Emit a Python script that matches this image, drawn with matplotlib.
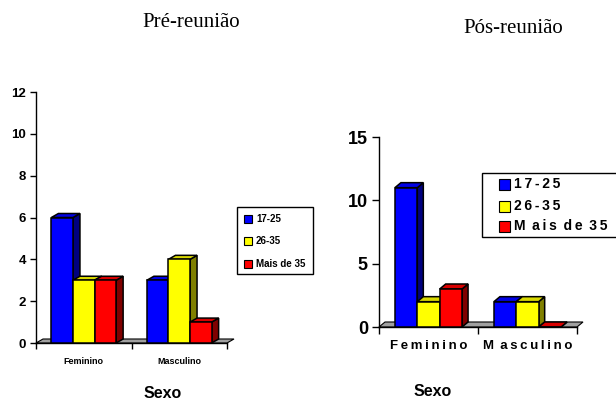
import matplotlib
matplotlib.use("Agg")
import matplotlib.pyplot as plt
from matplotlib.patches import Polygon, Rectangle

# Sample counts by sex and age group, before and after the meeting
categories = ["Feminino", "Masculino"]
age_groups = ["17-25", "26-35", "Mais de 35"]
pre_17_25 = [6, 3]
pre_26_35 = [3, 4]
pre_mais_35 = [3, 1]
pos_17_25 = [11, 2]
pos_26_35 = [2, 2]
pos_mais_35 = [3, 0]

# labels on the second chart are drawn letter-spaced
pos_categories = ["Feminino", "M asculino"]
pos_age_groups = ["17-25", "26-35", "M ais de 35"]

faces = ["#0000ff", "#ffff00", "#ff0000"]
tops = ["#0000e6", "#d8d800", "#d80000"]
sides = ["#000080", "#808000", "#800000"]

W, H = 616, 400
SANS = ["Liberation Sans", "DejaVu Sans"]
SERIF = ["Liberation Serif", "DejaVu Serif"]
EDGE = 1.1


def spaced(s):
    # thin space between letters, word spaces widened by one thin space
    out = s[0]
    for a, b in zip(s, s[1:]):
        out += b if a == " " else "\u2009" + b
    return out


def fx(px):
    return px / W


def fy(py):
    return 1 - py / H


def depth(ax, dxp, dyp):
    # convert a pixel offset into data units
    inv = ax.transData.inverted()
    x0, y0 = ax.transData.transform((0, 0))
    dx, dy = inv.transform((x0 + dxp, y0 + dyp))
    return dx, dy


def bars3d(ax, series, dxp, dyp, width=0.226):
    dx, dy = depth(ax, dxp, dyp)
    # grey floor along the category axis
    ax.add_patch(Polygon([(0, 0), (2, 0), (2 + dx, dy), (dx, dy)],
                         closed=True, fc="#a0a0a0", ec="k", lw=0.8,
                         clip_on=False, zorder=1))
    z = 2
    n = len(series)
    for c in range(len(categories)):
        for i, vals in enumerate(series):
            h = vals[c]
            x0 = c + 0.5 + (i - n / 2) * width
            x1 = x0 + width
            ax.add_patch(Polygon([(x1, 0), (x1 + dx, dy), (x1 + dx, h + dy), (x1, h)],
                                 closed=True, fc=sides[i], ec="k", lw=EDGE,
                                 clip_on=False, zorder=z))
            ax.add_patch(Polygon([(x0, h), (x1, h), (x1 + dx, h + dy), (x0 + dx, h + dy)],
                                 closed=True, fc=tops[i], ec="k", lw=EDGE,
                                 clip_on=False, zorder=z + 1))
            ax.bar(x0, h, width, align="edge", color=faces[i], edgecolor="k",
                   linewidth=EDGE, zorder=z + 2, clip_on=False)
            z += 3


def style_axes(ax, ymax, yticks, tick_fs, ticklen, cat_labels, cat_fs, cat_pad):
    ax.set_xlim(0, 2)
    ax.set_ylim(0, ymax)
    for s in ["top", "right"]:
        ax.spines[s].set_visible(False)
    for s in ["left", "bottom"]:
        ax.spines[s].set_linewidth(1.0)
    ax.set_yticks(yticks)
    ax.set_yticklabels([str(t) for t in yticks], fontsize=tick_fs,
                       fontweight="bold", family=SANS)
    ax.tick_params(axis="y", direction="out", length=ticklen, width=1.0, pad=3)
    ax.set_xticks([0, 1, 2], minor=True)
    ax.set_xticks([0.5, 1.5])
    ax.set_xticklabels(cat_labels, fontsize=cat_fs, fontweight="bold", family=SANS)
    ax.tick_params(axis="x", which="major", length=0, pad=cat_pad)
    ax.tick_params(axis="x", which="minor", direction="out", length=ticklen, width=1.0)
    ax.patch.set_visible(False)


def legend_box(fig, box, marker_x, marker_size, text_x, rows, labels, fs):
    x0, y0, x1, y1 = box
    fig.patches.append(Rectangle((fx(x0), fy(y1)), fx(x1) - fx(x0), fy(y0) - fy(y1),
                                 transform=fig.transFigure, fc="white", ec="k",
                                 lw=1.0, zorder=5))
    for color, y, lab in zip(faces, rows, labels):
        fig.patches.append(Rectangle((fx(marker_x), fy(y + marker_size / 2)),
                                     marker_size / W, marker_size / H,
                                     transform=fig.transFigure, fc=color, ec="k",
                                     lw=0.8, zorder=6))
        fig.text(fx(text_x), fy(y), lab, ha="left", va="center", fontsize=fs,
                 fontweight="bold", family=SANS, zorder=7)


fig = plt.figure(figsize=(W / 100, H / 100), dpi=100)

# Pré-reunião
ax1 = fig.add_axes([fx(36), fy(343), (227 - 36) / W, (343 - 92) / H])
style_axes(ax1, 12, [0, 2, 4, 6, 8, 10, 12], 9.5, 4.3, categories, 6.5, 10)
bars3d(ax1, [pre_17_25, pre_26_35, pre_mais_35], 7, 4)
ax1.set_xlabel("Sexo", fontsize=11.5, fontweight="bold", family=SANS)
ax1.xaxis.set_label_coords((163 - 36) / 191, -(393 - 343) / 251)
ax1.xaxis.label.set_va("center")
fig.text(fx(191), fy(27), "Pré-reunião", ha="center", va="baseline",
         fontsize=15, family=SERIF)
legend_box(fig, (237, 207, 313, 274), 244, 8, 256, [219, 241, 264], age_groups, 7)

# Pós-reunião
ax2 = fig.add_axes([fx(379), fy(327), (577 - 379) / W, (327 - 137) / H])
style_axes(ax2, 15, [0, 5, 10, 15], 13, 5, [spaced(c) for c in pos_categories], 9.5, 9.5)
bars3d(ax2, [pos_17_25, pos_26_35, pos_mais_35], 6, 5)
ax2.set_xlabel("Sexo", fontsize=11.5, fontweight="bold", family=SANS)
ax2.xaxis.set_label_coords((433 - 379) / 198, -(391 - 327) / 190)
ax2.xaxis.label.set_va("center")
fig.text(fx(513), fy(33), "Pós-reunião", ha="center", va="baseline",
         fontsize=15, family=SERIF)
legend_box(fig, (482, 173, 640, 237), 499, 11, 514, [184, 206, 226],
           [spaced(g) for g in pos_age_groups], 10)

fig.savefig("out.png", dpi=100)
